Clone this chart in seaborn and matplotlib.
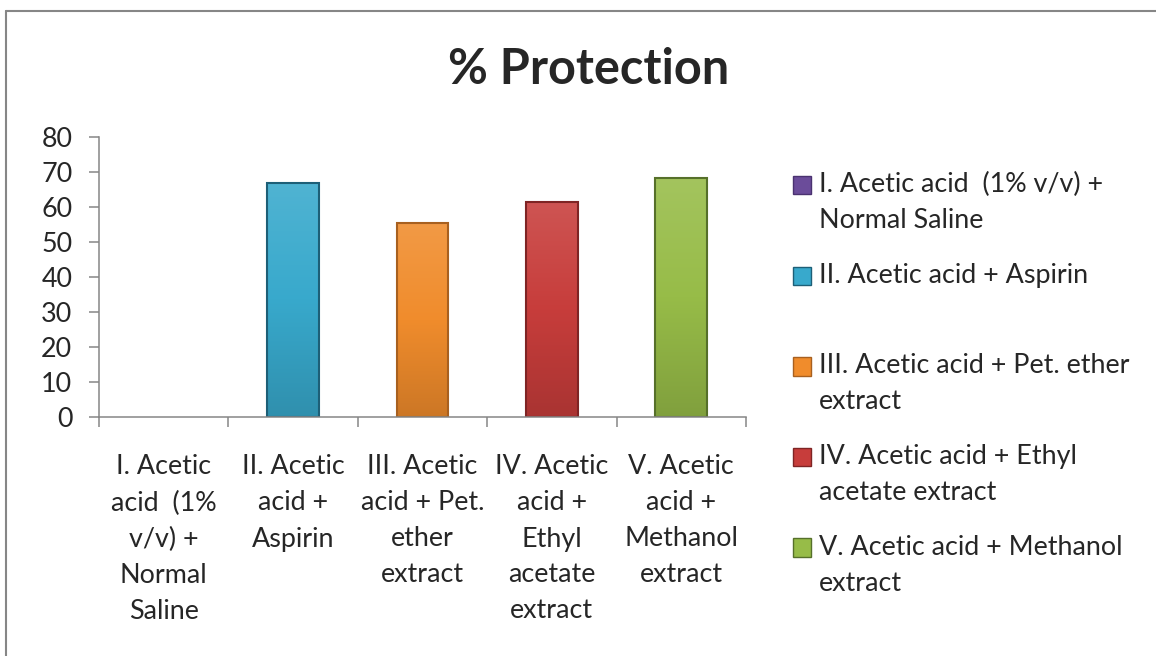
import numpy as np
import pandas as pd
import matplotlib.pyplot as plt
import matplotlib.patches as mpatches
from matplotlib.colors import LinearSegmentedColormap, to_rgb
from matplotlib.legend_handler import HandlerPatch
from matplotlib.lines import Line2D
import seaborn as sns

# data
groups = ["I", "II", "III", "IV", "V"]
x_labels = [
    "I. Acetic\nacid  (1%\nv/v) +\nNormal\nSaline",
    "II. Acetic\nacid +\nAspirin",
    "III. Acetic\nacid + Pet.\nether\nextract",
    "IV. Acetic\nacid +\nEthyl\nacetate\nextract",
    "V. Acetic\nacid +\nMethanol\nextract",
]
legend_labels = [
    "I. Acetic acid  (1% v/v) +\nNormal Saline",
    "II. Acetic acid + Aspirin\n",
    "III. Acetic acid + Pet. ether\nextract",
    "IV. Acetic acid + Ethyl\nacetate extract",
    "V. Acetic acid + Methanol\nextract",
]
protection = [0, 66.9, 55.4, 61.4, 68.3]

bar_colors = ["#6B4C9A", "#38A9CC", "#F08C2C", "#C73D3B", "#97BC48"]
edge_colors = ["#4A3270", "#1D5F77", "#A8601F", "#7F2424", "#56702A"]
gray = "#868686"

sns.set_style("white")
plt.rcParams["font.family"] = ["Lato", "DejaVu Sans"]

df = pd.DataFrame({"group": groups, "protection": protection})

fig = plt.figure(figsize=(11.56, 6.56), dpi=100)
ax = fig.add_axes([99 / 1156, 1 - 417 / 656, 647 / 1156, 280 / 656])
sns.barplot(data=df, x="group", y="protection", hue="group",
            palette=dict(zip(groups, bar_colors)), width=0.4,
            saturation=1, legend=False, ax=ax)


def shade(c, f):
    r = np.array(to_rgb(c))
    return tuple(np.clip(r * f if f < 1 else r + (1 - r) * (f - 1), 0, 1))


# gradient fill clipped to each bar, like the bevelled bars of the original
for bar, c, ec in zip(ax.patches, bar_colors, edge_colors):
    bar.set_edgecolor(ec)
    bar.set_linewidth(1.5 if bar.get_height() > 0 else 0)
    if bar.get_height() <= 0:
        continue
    cmap = LinearSegmentedColormap.from_list("g", [shade(c, 0.85), c, shade(c, 1.12)])
    grad = np.linspace(0, 1, 256).reshape(-1, 1)
    x0, w, h = bar.get_x(), bar.get_width(), bar.get_height()
    im = ax.imshow(grad, cmap=cmap, origin="lower", aspect="auto",
                   extent=(x0, x0 + w, 0, h), zorder=bar.get_zorder())
    im.set_clip_path(bar)
    bar.set_facecolor("none")
    bar.set_zorder(bar.get_zorder() + 0.1)

ax.set_xlim(-0.5, 4.5)
ax.set_ylim(0, 80)
ax.set_yticks(range(0, 81, 10))
ax.set_xticks(np.arange(-0.5, 5, 1), labels=[""] * 6)
ax.set_xticks(range(5), labels=x_labels, minor=True)
ax.set_xlabel("")
ax.set_ylabel("")

ax.tick_params(axis="x", which="major", bottom=True, length=7.2, width=1.1, color=gray)
ax.tick_params(axis="x", which="minor", bottom=True, length=0, pad=27, labelsize=19.4)
ax.tick_params(axis="y", left=True, length=7.2, width=1.1, color=gray, pad=12, labelsize=19.4)
for t in ax.get_xticklabels(minor=True):
    t.set_linespacing(1.55)

for s in ["top", "right"]:
    ax.spines[s].set_visible(False)
for s in ["left", "bottom"]:
    ax.spines[s].set_color(gray)
    ax.spines[s].set_linewidth(1.1)

# title and outer frame
fig.text(589 / 1156, 1 - 69 / 656, "% Protection", ha="center", va="center",
         fontsize=35, fontweight="bold")
fig.add_artist(Line2D([6 / 1156, 6 / 1156], [0, 1 - 11 / 656], color=gray, lw=1.5))
fig.add_artist(Line2D([6 / 1156, 1], [1 - 11 / 656, 1 - 11 / 656], color=gray, lw=1.5))


# legend square sits next to the first line of the label
def raised_square(legend, orig_handle, xdescent, ydescent, width, height, fontsize):
    return mpatches.Rectangle((-xdescent, -ydescent + 13), width, height)


handles = [mpatches.Patch(facecolor=c, edgecolor=e, linewidth=1)
           for c, e in zip(bar_colors, edge_colors)]
leg = fig.legend(handles, legend_labels, loc="upper left",
                 bbox_to_anchor=(793 / 1156, 1 - 172 / 656), frameon=False,
                 fontsize=19.4, handlelength=0.67, handleheight=0.67,
                 handletextpad=0.3, labelspacing=1.1, borderpad=0, borderaxespad=0,
                 handler_map={mpatches.Patch: HandlerPatch(patch_func=raised_square)})
for t in leg.get_texts():
    t.set_linespacing(1.55)

fig.savefig("out.png", dpi=100)
